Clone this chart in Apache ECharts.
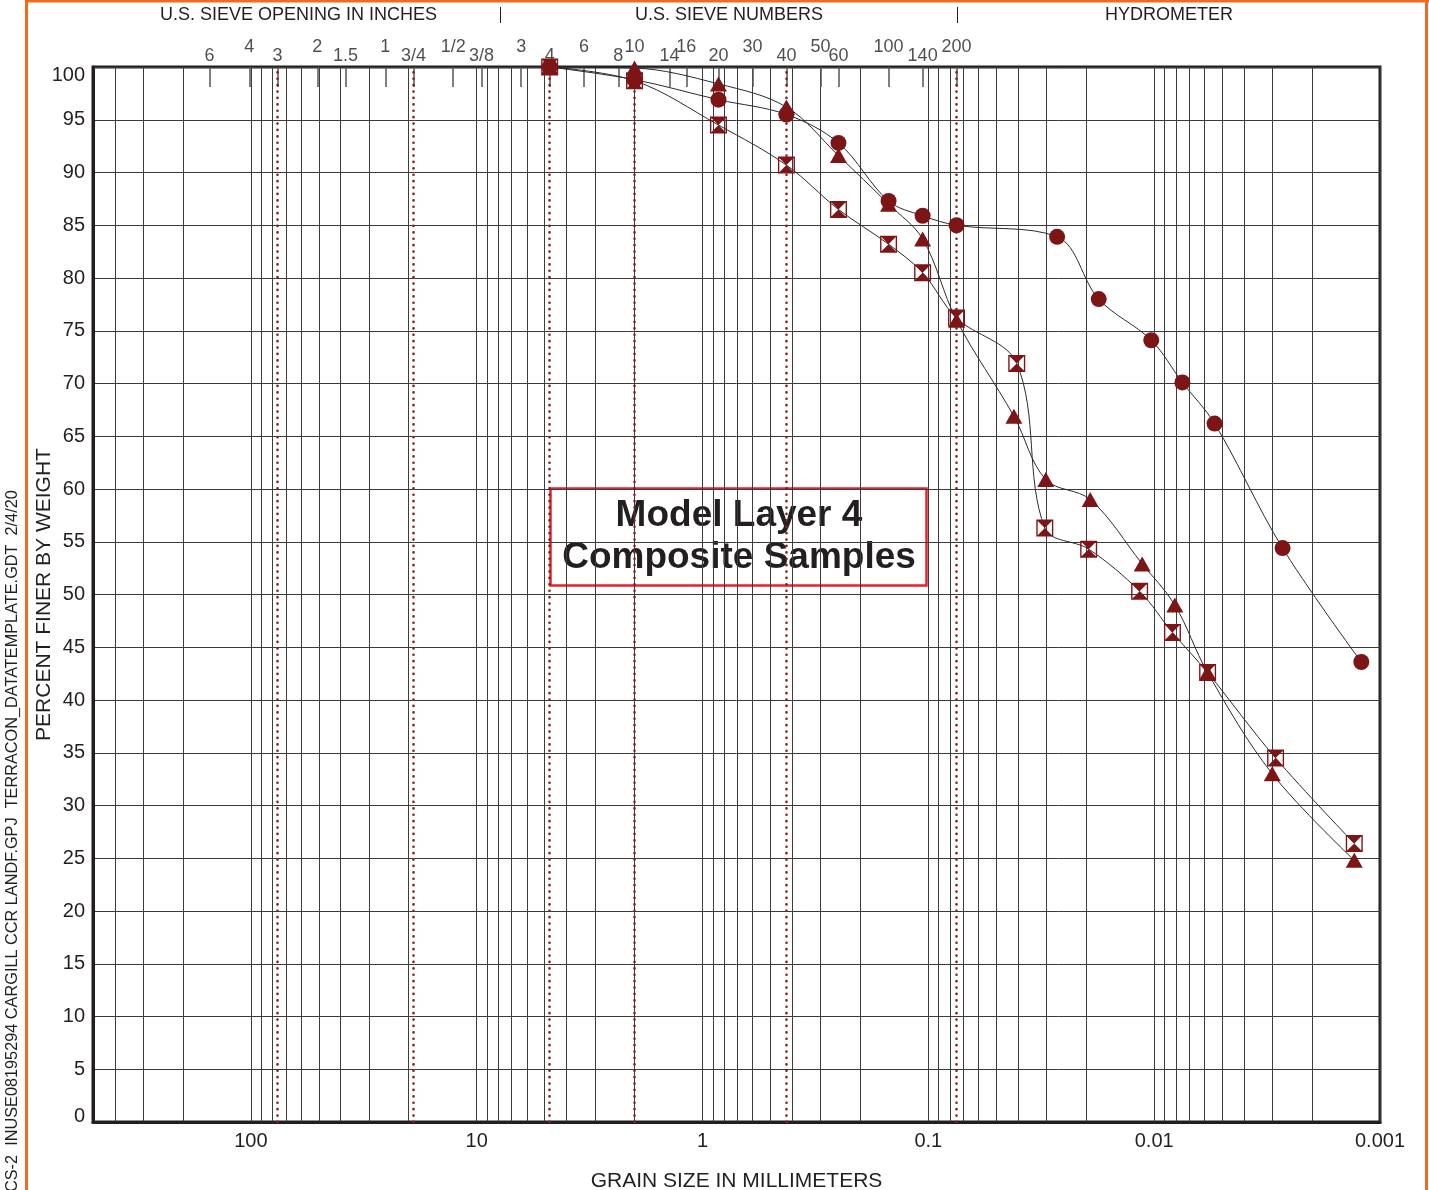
<!DOCTYPE html>
<html>
<head>
<meta charset="utf-8">
<script src="https://cdn.jsdelivr.net/npm/echarts@6/dist/echarts.min.js"></script>
<style>
  html, body { margin: 0; padding: 0; background: #fff; }
  #gradation { width: 1429px; height: 1190px; }
</style>
</head>
<body>
<div id="gradation"></div>
<script>
// sieve openings (mm) and the names printed above the plot
const sieveSizes = [152.4, 101.6, 76.2, 50.8, 38.1, 25.4, 19.05, 12.7, 9.525, 6.35, 4.75, 3.35, 2.36, 2.0, 1.4, 1.18, 0.85, 0.6, 0.425, 0.3, 0.25, 0.15, 0.106, 0.075];
const sieveLabels = ['6', '4', '3', '2', '1.5', '1', '3/4', '1/2', '3/8', '3', '4', '6', '8', '10', '14', '16', '20', '30', '40', '50', '60', '100', '140', '200'];
// gravel / sand / fines boundaries (dotted red lines)
const classBounds = [76.2, 19.05, 4.75, 2.0, 0.425, 0.075];

// composite samples: grain size (mm) and percent finer
const triangleSize = [4.75, 2.0, 0.85, 0.425, 0.25, 0.15, 0.106, 0.075, 0.0418, 0.0302, 0.0192, 0.0113, 0.0081, 0.0058, 0.0030, 0.0013];
const trianglePct = [100, 99.9, 98.4, 96.2, 91.6, 87.0, 83.7, 76.0, 66.9, 60.9, 59.0, 52.9, 49.0, 42.6, 33.0, 24.8];
const circleSize = [4.75, 2.0, 0.85, 0.425, 0.25, 0.15, 0.106, 0.075, 0.0269, 0.0176, 0.0103, 0.0075, 0.0054, 0.0027, 0.00121];
const circlePct = [100, 98.8, 96.9, 95.5, 92.8, 87.3, 85.9, 85.0, 83.9, 78.0, 74.1, 70.1, 66.2, 54.4, 43.6];
const squareSize = [4.75, 2.0, 0.85, 0.425, 0.25, 0.15, 0.106, 0.075, 0.0406, 0.0305, 0.0195, 0.0116, 0.0083, 0.0058, 0.0029, 0.0013];
const squarePct = [100, 98.7, 94.5, 90.7, 86.5, 83.2, 80.5, 76.2, 71.9, 56.3, 54.3, 50.3, 46.4, 42.6, 34.5, 26.4];

const DARK_RED = '#7d1416';
const INK = '#231f20';
const GRID = '#3c3c3c';
const FONT = 'Liberation Sans, Arial, sans-serif';

// log grid: 1..9 in every decade
const gridValues = [];
for (let d = -3; d <= 2; d++) {
  for (let k = 1; k <= 9; k++) {
    const v = +(k * Math.pow(10, d)).toPrecision(3);
    if (v < 500) gridValues.push(v);
  }
}

const hourglass = 'path://M0,0H16V16H0Z M1.3,1.3V14.7H14.7V1.3Z M1.3,1.3H14.7L8,8Z M1.3,14.7L8,8L14.7,14.7Z';

const zip = (xs, ys) => xs.map((x, i) => [x, ys[i]]);

function sample(name, xs, ys, symbol, size) {
  return {
    name,
    type: 'line',
    data: zip(xs, ys),
    smooth: 0.35,
    symbol,
    symbolSize: size,
    showAllSymbol: true,
    clip: false,
    z: 5,
    lineStyle: { color: '#2b2b2b', width: 1 },
    itemStyle: { color: DARK_RED, opacity: 1 }
  };
}

// straight segments drawn through the cartesian scales
function segments(name, items, style, z) {
  return {
    name,
    type: 'lines',
    coordinateSystem: 'cartesian2d',
    silent: true,
    z,
    lineStyle: Object.assign({ opacity: 1, curveness: 0 }, style),
    data: items.map(c => ({ coords: c }))
  };
}

const chart = echarts.init(document.getElementById('gradation'));
chart.setOption({
  animation: false,
  textStyle: { fontFamily: FONT, color: INK },
  grid: {
    left: 93, right: 49, top: 67, bottom: 68,
    outerBoundsMode: 'none',
    containLabel: false,
    show: true, borderColor: INK, borderWidth: 3, backgroundColor: 'transparent'
  },
  xAxis: {
    type: 'log',
    logBase: 10,
    min: 0.001,
    max: 500,
    inverse: true,
    axisLine: { show: true, lineStyle: { color: INK, width: 3 } },
    axisTick: { show: false },
    splitLine: { show: false },
    axisLabel: {
      fontSize: 20,
      color: INK,
      margin: 9,
      formatter: v => {
        const l = Math.log10(v);
        return Math.abs(l - Math.round(l)) < 1e-6 ? String(+v.toPrecision(6)) : '';
      }
    },
    name: 'GRAIN SIZE IN MILLIMETERS',
    nameLocation: 'middle',
    nameGap: 49,
    nameMoveOverlap: false,
    nameTextStyle: { fontSize: 21, color: INK }
  },
  yAxis: {
    type: 'value',
    min: 0,
    max: 100,
    interval: 5,
    axisLine: { show: true, lineStyle: { color: INK, width: 3 } },
    axisTick: { show: false },
    splitLine: { show: true, lineStyle: { color: GRID, width: 1 } },
    axisLabel: {
      fontSize: 20,
      color: INK,
      margin: 8,
      formatter: v => v === 100 ? '{top|100}' : v === 0 ? '{bot|0}' : String(v),
      rich: {
        top: { fontSize: 20, color: INK, padding: [17, 0, 0, 0] },
        bot: { fontSize: 20, color: INK, padding: [0, 0, 12, 0] }
      }
    },
    name: 'PERCENT FINER BY WEIGHT',
    nameLocation: 'middle',
    nameRotate: 90,
    nameGap: 38,
    nameMoveOverlap: false,
    nameTextStyle: { fontSize: 21, color: INK }
  },
  series: [
    segments('grid', gridValues.map(v => [[v, 0], [v, 100]]), { color: GRID, width: 1 }, 1),
    segments('sieve ticks', sieveSizes.map(s => [[s, 100], [s, 98.1]]), { color: '#555', width: 1.5 }, 2),
    segments('class bounds', classBounds.map(b => [[b, 0], [b, 100]]),
      { color: '#8b1a1d', width: 2.6, type: [0.1, 6.3], cap: 'round' }, 3),
    {
      name: 'sieve labels',
      type: 'scatter',
      silent: true,
      clip: false,
      symbolSize: 1,
      itemStyle: { color: 'rgba(0,0,0,0)' },
      z: 4,
      data: sieveSizes.map((s, i) => ({
        value: [s, 100],
        label: { distance: i % 2 ? 10 : 1 }
      })),
      label: {
        show: true,
        position: 'top',
        fontSize: 18,
        color: INK,
        formatter: p => sieveLabels[p.dataIndex]
      }
    },
    sample('triangle', triangleSize, trianglePct, 'triangle', [17, 15]),
    sample('circle', circleSize, circlePct, 'circle', 16),
    sample('square', squareSize, squarePct, hourglass, 17)
  ],
  graphic: [
    // page frame
    { type: 'line', silent: true, shape: { x1: 26.5, y1: 0, x2: 26.5, y2: 1190 }, style: { stroke: '#f26a21', lineWidth: 3 } },
    { type: 'line', silent: true, shape: { x1: 26, y1: 1, x2: 1429, y2: 1 }, style: { stroke: '#f26a21', lineWidth: 3 } },
    { type: 'line', silent: true, shape: { x1: 1426.5, y1: 0, x2: 1426.5, y2: 1190 }, style: { stroke: '#f26a21', lineWidth: 3 } },
    // header
    { type: 'text', left: 160, top: 6, style: { text: 'U.S. SIEVE OPENING IN INCHES', fontSize: 18, fontFamily: FONT, fill: INK } },
    { type: 'text', left: 635, top: 6, style: { text: 'U.S. SIEVE NUMBERS', fontSize: 18, fontFamily: FONT, fill: INK } },
    { type: 'text', left: 1105, top: 6, style: { text: 'HYDROMETER', fontSize: 18, fontFamily: FONT, fill: INK } },
    { type: 'line', silent: true, shape: { x1: 500.5, y1: 7, x2: 500.5, y2: 23 }, style: { stroke: INK, lineWidth: 1 } },
    { type: 'line', silent: true, shape: { x1: 957.5, y1: 7, x2: 957.5, y2: 23 }, style: { stroke: INK, lineWidth: 1 } },
    // file stamp on the left margin
    {
      type: 'text',
      x: 5, y: 1192,
      rotation: Math.PI / 2,
      style: {
        text: 'CS-2  INUSE08195294 CARGILL CCR LANDF.GPJ  TERRACON_DATATEMPLATE.GDT  2/4/20',
        fontSize: 16.3, fontFamily: FONT, fill: INK, textAlign: 'left', textVerticalAlign: 'top'
      }
    },
    // title box
    {
      type: 'group',
      z: 100,
      children: [
        { type: 'rect', shape: { x: 550.5, y: 488.5, width: 376, height: 97 }, style: { fill: '#fff', stroke: '#e8212b', lineWidth: 2.5 } },
        {
          type: 'text',
          x: 739, y: 537,
          style: {
            text: 'Model Layer 4\nComposite Samples',
            fontSize: 37, fontWeight: 'bold', fontFamily: FONT, fill: INK,
            textAlign: 'center', textVerticalAlign: 'middle', lineHeight: 42
          }
        }
      ]
    }
  ]
});
</script>
</body>
</html>
